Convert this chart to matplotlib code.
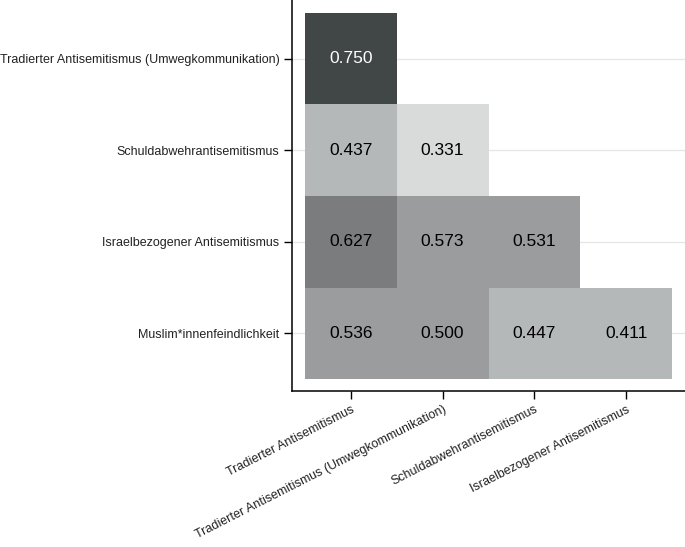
import matplotlib.pyplot as plt
import numpy as np
from matplotlib.colors import ListedColormap, BoundaryNorm

plt.rcParams['font.family'] = ['Liberation Sans', 'DejaVu Sans']

col_labels = ['Tradierter Antisemitismus',
              'Tradierter Antisemitismus (Umwegkommunikation)',
              'Schuldabwehrantisemitismus',
              'Israelbezogener Antisemitismus']
row_labels = ['Tradierter Antisemitismus (Umwegkommunikation)',
              'Schuldabwehrantisemitismus',
              'Israelbezogener Antisemitismus',
              'Muslim*innenfeindlichkeit']

# untere Dreiecksmatrix, nan = leer
corr = np.array([
    [0.750, np.nan, np.nan, np.nan],
    [0.437, 0.331, np.nan, np.nan],
    [0.627, 0.573, 0.531, np.nan],
    [0.536, 0.500, 0.447, 0.411],
])

bins = [0.3, 0.4, 0.5, 0.6, 0.7, 0.8]
grays = ['#d9dbdb', '#b5b8b9', '#9b9c9e', '#7b7c7e', '#414647']
cmap = ListedColormap(grays)
norm = BoundaryNorm(bins, cmap.N)

fig = plt.figure(figsize=(6.85, 5.47), dpi=100)
ax = fig.add_axes([292 / 685, 1 - 391 / 547, 1 - 292 / 685, 391 / 547])

n_rows, n_cols = corr.shape
for i in range(n_rows):
    ax.axhline(i, color='#e6e6e6', lw=0.9, zorder=0)

data = np.ma.masked_invalid(corr)
ax.pcolormesh(np.arange(n_cols + 1) - 0.5, np.arange(n_rows + 1) - 0.5,
              data, cmap=cmap, norm=norm, zorder=1)

for i in range(n_rows):
    for j in range(n_cols):
        v = corr[i, j]
        if np.isnan(v):
            continue
        c = 'white' if v >= 0.7 else 'black'
        ax.text(j, i, f'{v:.3f}', ha='center', va='center',
                fontsize=12.5, color=c, zorder=2)

ax.set_xlim(-0.64, 3.64)
ax.set_ylim(3.63, -0.64)
ax.set_xticks(range(n_cols))
ax.set_yticks(range(n_rows))
ax.set_xticklabels(col_labels, rotation=27, ha='right', rotation_mode='anchor',
                   fontsize=9, color='#222222')
ax.set_yticklabels(row_labels, fontsize=9, color='#222222')
ax.tick_params(length=6, width=1, pad=3)
for s in ['top', 'right']:
    ax.spines[s].set_visible(False)
for s in ['left', 'bottom']:
    ax.spines[s].set_linewidth(1.1)

fig.savefig('out.png', dpi=100)
